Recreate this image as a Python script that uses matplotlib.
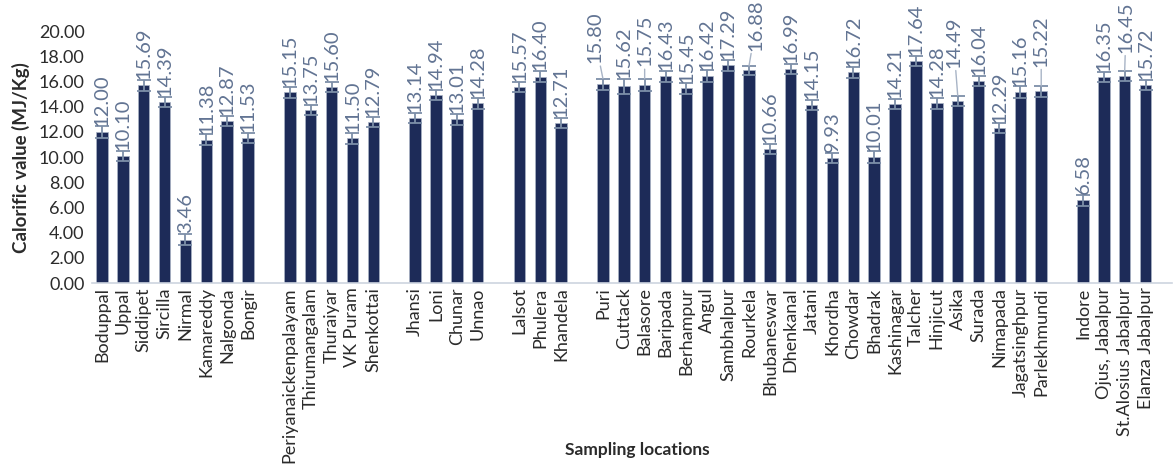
import matplotlib
matplotlib.use("Agg")
import matplotlib.pyplot as plt
import numpy as np

plt.rcParams['font.family'] = ['Lato', 'DejaVu Sans']
narrow_font = ['Liberation Sans Narrow', 'Lato', 'DejaVu Sans']

# Sampling locations, grouped by region (a blank slot separates groups)
group_telangana = ["Boduppal", "Uppal", "Siddipet", "Sircilla", "Nirmal",
                   "Kamareddy", "Nalgonda", "Bongir"]
group_tamilnadu = ["Periyanaickenpalayam", "Thirumangalam", "Thuraiyar",
                   "VK Puram", "Shenkottai"]
group_up = ["Jhansi", "Loni", "Chunar", "Unnao"]
group_rajasthan = ["Lalsot", "Phulera", "Khandela"]
group_odisha = ["Puri", "Cuttack", "Balasore", "Baripada", "Berhampur", "Angul",
                "Sambhalpur", "Rourkela", "Bhubaneswar", "Dhenkanal", "Jatani",
                "Khordha", "Chowdar", "Bhadrak", "Kashinagar", "Talcher",
                "Hinjicut", "Asika", "Surada", "Nimapada", "Jagatsinghpur",
                "Parlekhmundi"]
group_mp = ["Indore", "Ojus, Jabalpur", "St.Alosius Jabalpur", "Elanza Jabalpur"]

# Calorific value (MJ/Kg)
val_telangana = [12.00, 10.10, 15.69, 14.39, 3.46, 11.38, 12.87, 11.53]
val_tamilnadu = [15.15, 13.75, 15.60, 11.50, 12.79]
val_up = [13.14, 14.94, 13.01, 14.28]
val_rajasthan = [15.57, 16.40, 12.71]
val_odisha = [15.80, 15.62, 15.75, 16.43, 15.45, 16.42, 17.29, 16.88, 10.66,
              16.99, 14.15, 9.93, 16.72, 10.01, 14.21, 17.64, 14.28, 14.49,
              16.04, 12.29, 15.16, 15.22]
val_mp = [6.58, 16.35, 16.45, 15.72]

# Standard deviations
err_telangana = [0.45, 0.40, 0.42, 0.40, 0.45, 0.42, 0.40, 0.42]
err_tamilnadu = [0.42, 0.40, 0.40, 0.42, 0.42]
err_up = [0.40, 0.42, 0.45, 0.42]
err_rajasthan = [0.42, 0.45, 0.40]
err_odisha = [0.44, 0.58, 0.46, 0.44, 0.42, 0.46, 0.42, 0.36, 0.40, 0.40, 0.42,
              0.40, 0.42, 0.45, 0.42, 0.40, 0.42, 0.40, 0.40, 0.40, 0.45, 0.42]
err_mp = [0.42, 0.42, 0.40, 0.42]

groups = [
    (group_telangana, val_telangana, err_telangana),
    (group_tamilnadu, val_tamilnadu, err_tamilnadu),
    (group_up, val_up, err_up),
    (group_rajasthan, val_rajasthan, err_rajasthan),
    (group_odisha, val_odisha, err_odisha),
    (group_mp, val_mp, err_mp),
]

# Labels that are pulled away from their bar with a leader line: (dx, dy) in points
offset_labels = {
    "Puri": (-6, 11),
    "Balasore": (0, 9),
    "Rourkela": (5, 11),
    "Asika": (-3, 20),
    "Parlekhmundi": (0, 14),
    "St.Alosius Jabalpur": (1, 13),
}

names, values, errors, xpos = [], [], [], []
pos = 0
for n, v, e in groups:
    for a, b, c in zip(n, v, e):
        names.append(a)
        values.append(b)
        errors.append(c)
        xpos.append(pos)
        pos += 1
    pos += 1  # blank slot between groups

bar_color = "#1d2b58"
err_color = "#7d8fa8"
label_color = "#627493"
text_color = "#2b2b2b"

fig = plt.figure(figsize=(11.74, 4.65), dpi=100)
ax = fig.add_axes([0.078, 0.391, 0.920, 0.542])

ax.bar(xpos, values, width=0.55, color=bar_color, edgecolor="#aab4c6",
       linewidth=0.5, zorder=2)
ax.errorbar(xpos, values, yerr=errors, fmt="none", ecolor=err_color,
            elinewidth=1.3, capsize=5, capthick=1.3, zorder=3)

for x, v, e, n in zip(xpos, values, errors, names):
    label = f"{v:.2f}"
    if n in offset_labels:
        dx, dy = offset_labels[n]
        ax.annotate(label, xy=(x, v + e), xytext=(dx, dy),
                    textcoords="offset points", rotation=90,
                    ha="center", va="bottom", fontsize=14.5, color=label_color,
                    family=narrow_font,
                    arrowprops=dict(arrowstyle="-", color="#a8b4c6", lw=1.0,
                                    shrinkA=0, shrinkB=0))
    else:
        ax.annotate(label, xy=(x, v + e), xytext=(0, 0.5),
                    textcoords="offset points", rotation=90,
                    ha="center", va="bottom", fontsize=14.5, color=label_color,
                    family=narrow_font)

ax.set_xlim(-0.5, pos - 1 + 0.25)
ax.set_ylim(0, 20)
yt = np.arange(0, 20.01, 2)
ax.set_yticks(yt)
ax.set_yticklabels([f"{t:.2f}" for t in yt], fontsize=13, color=text_color)
ax.set_xticks(xpos)
ax.set_xticklabels(names, rotation=90, fontsize=13, color=text_color)
ax.tick_params(axis="both", length=0, pad=3)
ax.tick_params(axis="y", pad=5)

for s in ["top", "right", "left"]:
    ax.spines[s].set_visible(False)
ax.spines["bottom"].set_color("#cdd4df")
ax.spines["bottom"].set_linewidth(1.2)

ax.set_ylabel("Calorific value (MJ/Kg)", fontsize=13.5, fontweight="bold",
              family=narrow_font, color=text_color, labelpad=6)
fig.text(0.543, 0.032, "Sampling locations", ha="center", va="center",
         fontsize=12.5, fontweight="bold", color=text_color)

fig.savefig("out.png", dpi=100)
